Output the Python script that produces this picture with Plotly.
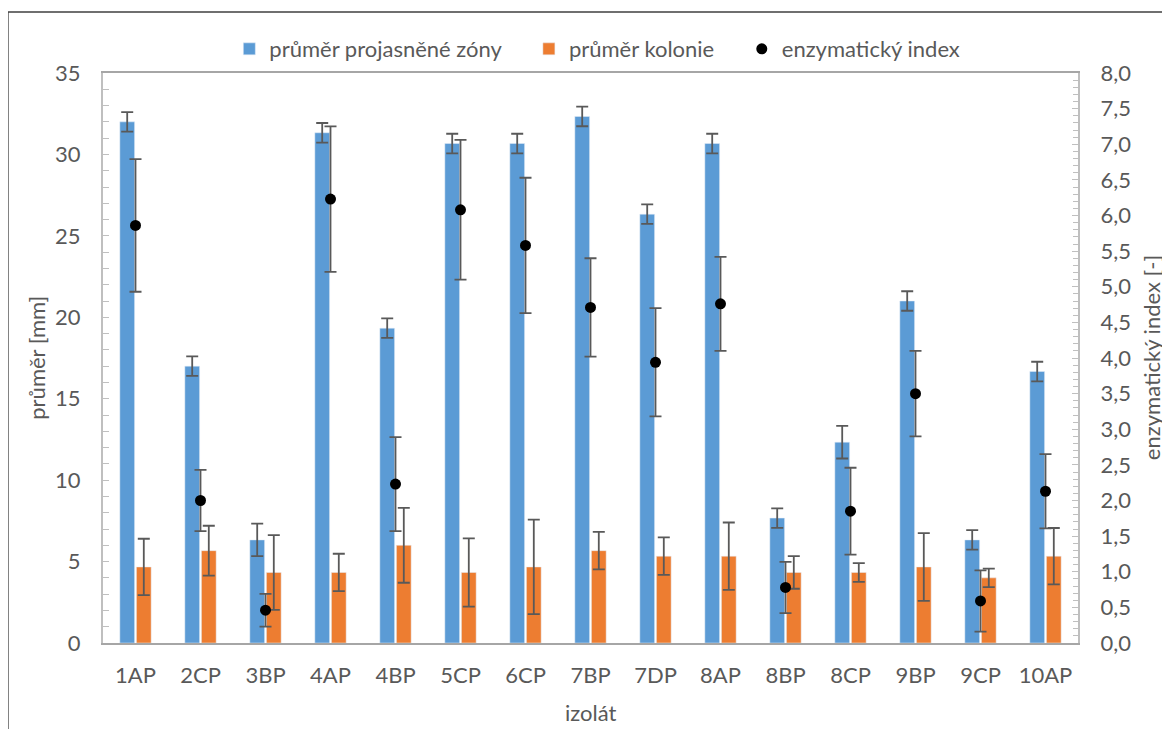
import plotly.graph_objects as go

categories = ["1AP", "2CP", "3BP", "4AP", "4BP", "5CP", "6CP", "7BP", "7DP", "8AP",
              "8BP", "8CP", "9BP", "9CP", "10AP"]
zona = [32.0, 17.0, 6.33, 31.33, 19.33, 30.67, 30.67, 32.33, 26.33, 30.67,
        7.67, 12.33, 21.0, 6.33, 16.67]
zona_err = [0.6, 0.6, 1.0, 0.6, 0.6, 0.6, 0.6, 0.6, 0.6, 0.6,
            0.6, 1.0, 0.6, 0.6, 0.6]
kolonie = [4.67, 5.67, 4.33, 4.33, 6.0, 4.33, 4.67, 5.67, 5.33, 5.33,
           4.33, 4.33, 4.67, 4.0, 5.33]
kolonie_err = [1.73, 1.53, 2.3, 1.15, 2.3, 2.1, 2.9, 1.15, 1.15, 2.07,
               1.0, 0.58, 2.08, 0.57, 1.73]
index_vals = [5.86, 2.0, 0.46, 6.23, 2.23, 6.08, 5.58, 4.71, 3.94, 4.76,
              0.78, 1.85, 3.50, 0.59, 2.13]
index_err = [0.93, 0.43, 0.23, 1.02, 0.66, 0.98, 0.95, 0.69, 0.76, 0.66,
             0.36, 0.61, 0.60, 0.43, 0.52]

FONT = "Lato"
FS = 22
GRAY = "#595959"
AX = "#bfbfbf"
ERR = "#595959"
NB = "\u00a0"

fig = go.Figure()
fig.add_trace(go.Bar(
    x=categories, y=zona, name="průměr projasněné zóny" + NB * 4,
    marker=dict(color="#5B9BD5"),
    error_y=dict(type="data", array=zona_err, color=ERR, thickness=1.8, width=6),
))
fig.add_trace(go.Bar(
    x=categories, y=kolonie, name="průměr kolonie" + NB * 4,
    marker=dict(color="#ED7D31"),
    error_y=dict(type="data", array=kolonie_err, color=ERR, thickness=1.8, width=6),
))
fig.add_trace(go.Scatter(
    x=categories, y=index_vals, name="enzymatický index", yaxis="y2",
    mode="markers", marker=dict(color="black", size=11),
    error_y=dict(type="data", array=index_err, color=ERR, thickness=1.8, width=6),
))

fig.update_layout(
    width=1170, height=729,
    margin=dict(l=95, r=100, t=65, b=94, autoexpand=False),
    paper_bgcolor="white", plot_bgcolor="white",
    font=dict(family=FONT, size=FS, color=GRAY),
    separators=", ",
    barmode="group", bargap=0.49, bargroupgap=0.11,
    showlegend=True,
    legend=dict(orientation="h", x=0.507, xanchor="center", y=1.042, yanchor="middle",
                font=dict(size=FS, color=GRAY), bgcolor="rgba(0,0,0,0)"),
    xaxis=dict(range=[-0.5, len(categories) - 0.5], autorange=False,
               showline=True, linecolor="#a6a6a6", linewidth=2, mirror=True,
               ticks="", showgrid=False, automargin=False, ticklabelstandoff=12,
               tickfont=dict(size=FS, color=GRAY)),
    yaxis=dict(range=[0, 35], dtick=5, showgrid=False, zeroline=False,
               showline=True, linecolor=AX, linewidth=2, automargin=False,
               ticks="inside", ticklen=6, tickcolor=AX,
               minor=dict(dtick=1, ticks="inside", ticklen=6, tickcolor=AX, showgrid=False),
               ticklabelstandoff=16, tickfont=dict(size=FS, color=GRAY)),
    yaxis2=dict(range=[0, 8], dtick=0.5, tickformat=".1f", overlaying="y", side="right",
                showgrid=False, zeroline=False, showline=True, linecolor=AX, linewidth=2,
                automargin=False,
                ticks="inside", ticklen=6, tickcolor=AX,
                minor=dict(dtick=0.1, ticks="inside", ticklen=5, tickcolor=AX, showgrid=False),
                ticklabelstandoff=16, tickfont=dict(size=FS, color=GRAY)),
    annotations=[
        dict(text="průměr [mm]", xref="paper", yref="paper", x=-0.069, y=0.5,
             xanchor="center", yanchor="middle",
             textangle=-90, showarrow=False, font=dict(size=FS, color=GRAY)),
        dict(text="enzymatický index [-]", xref="paper", yref="paper", x=1.075, y=0.5,
             xanchor="center", yanchor="middle",
             textangle=-90, showarrow=False, font=dict(size=FS, color=GRAY)),
        dict(text="izolát", xref="paper", yref="paper", x=0.5, y=-0.1228,
             xanchor="center", yanchor="middle",
             showarrow=False, font=dict(size=FS, color=GRAY)),
    ],
    shapes=[
        dict(type="rect", xref="paper", yref="paper",
             x0=(8 - 103) / 975, x1=(1190 - 103) / 975,
             y0=(643 - 750) / 570, y1=(643 - 12) / 570,
             line=dict(color="#404040", width=1.3), fillcolor="rgba(0,0,0,0)", layer="below"),
    ],
)

fig.write_html("out.html")
